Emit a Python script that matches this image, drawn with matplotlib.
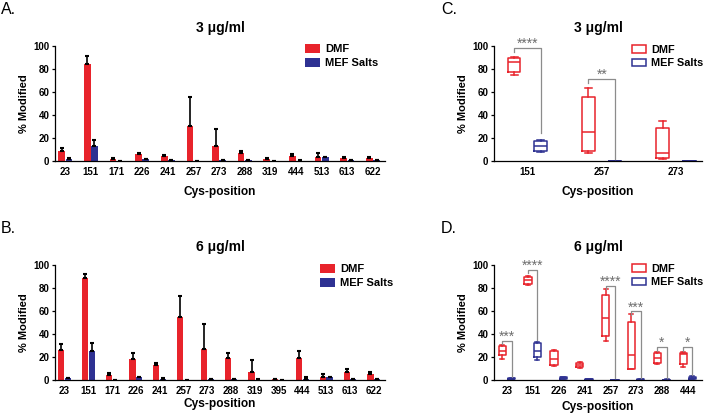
import numpy as np
import matplotlib
matplotlib.use('Agg')
import matplotlib.pyplot as plt
from matplotlib.patches import Patch

plt.rcParams['font.family'] = ['Liberation Sans', 'DejaVu Sans']
plt.rcParams['font.weight'] = 'bold'

RED = '#E8232B'
BLUE = '#2E3192'

# Panel A: 3 ug/ml, mean +/- error
a_pos = ['23', '151', '171', '226', '241', '257', '273', '288', '319', '444', '513', '613', '622']
a_dmf = [8.7, 84.6, 1.7, 6.1, 4.0, 30.4, 13.0, 7.0, 1.7, 4.3, 3.8, 2.9, 2.5]
a_dmf_err = [2.9, 7.0, 0.9, 1.1, 1.2, 25.0, 14.8, 2.0, 1.2, 1.5, 2.9, 0.6, 0.7]
a_mef = [1.8, 12.8, 0.2, 1.5, 0.8, 0.2, 0.5, 0.5, 0.2, 0.4, 3.5, 0.5, 0.5]
a_mef_err = [0.5, 5.2, 0.1, 0.5, 0.3, 0.1, 0.2, 0.2, 0.1, 0.2, 0.3, 0.2, 0.2]

# Panel B: 6 ug/ml
b_pos = ['23', '151', '171', '226', '241', '257', '273', '288', '319', '395', '444', '513', '613', '622']
b_dmf = [26.2, 88.4, 4.7, 18.0, 13.0, 54.7, 26.7, 19.2, 7.0, 0.5, 19.5, 2.6, 7.0, 5.2]
b_dmf_err = [4.8, 3.5, 1.4, 5.8, 1.8, 18.6, 22.3, 4.3, 10.0, 0.3, 6.1, 2.6, 2.3, 1.8]
b_mef = [1.5, 25.0, 0.1, 2.3, 1.0, 0.1, 0.5, 0.5, 0.3, 0.3, 1.0, 2.3, 0.5, 0.5]
b_mef_err = [0.5, 7.0, 0.1, 0.7, 0.5, 0.1, 0.2, 0.2, 0.2, 0.1, 1.3, 0.6, 0.2, 0.2]

# Panel C: 3 ug/ml box plots (min, q1, median, q3, max)
c_pos = ['151', '257', '273']
c_dmf_min = [74.5, 6.7, 2.0]
c_dmf_q1 = [77.4, 8.7, 2.6]
c_dmf_med = [86.0, 25.5, 6.7]
c_dmf_q3 = [90.0, 56.0, 28.7]
c_dmf_max = [90.5, 63.2, 34.8]
c_mef_min = [7.8, 0.0, 0.0]
c_mef_q1 = [8.4, 0.05, 0.05]
c_mef_med = [13.0, 0.1, 0.1]
c_mef_q3 = [17.4, 0.2, 0.2]
c_mef_max = [18.3, 0.3, 0.3]
c_sig_idx = [0, 1]
c_sig_top = [98.0, 71.3]
c_sig_bottom = [24.0, 1.0]
c_sig_text = ['****', '**']

# Panel D: 6 ug/ml box plots
d_pos = ['23', '151', '226', '241', '257', '273', '288', '444']
d_dmf_min = [18.5, 83.0, 12.2, 10.5, 33.6, 9.2, 13.5, 11.2]
d_dmf_q1 = [21.5, 83.5, 13.0, 11.5, 38.0, 10.0, 14.4, 14.0]
d_dmf_med = [25.5, 87.0, 18.3, 13.0, 53.5, 22.0, 19.3, 22.2]
d_dmf_q3 = [29.5, 90.0, 25.5, 15.0, 73.5, 50.4, 23.6, 23.6]
d_dmf_max = [30.5, 90.7, 26.0, 15.5, 79.0, 57.0, 24.5, 24.2]
d_mef_min = [0.2, 17.4, 0.5, 0.2, 0.0, 0.1, 0.0, 0.5]
d_mef_q1 = [0.5, 20.3, 0.8, 0.3, 0.05, 0.2, 0.1, 0.8]
d_mef_med = [1.0, 25.5, 1.5, 0.6, 0.1, 0.4, 0.2, 2.0]
d_mef_q3 = [1.5, 32.3, 2.5, 1.0, 0.2, 0.6, 0.4, 3.0]
d_mef_max = [1.8, 33.3, 3.0, 1.2, 0.3, 0.8, 0.5, 3.5]
d_sig_idx = [0, 1, 4, 5, 6, 7]
d_sig_top = [34.3, 96.0, 82.0, 59.6, 28.5, 28.5]
d_sig_bottom = [3.0, 34.6, 0.0, 0.0, 0.0, 4.0]
d_sig_text = ['***', '****', '****', '***', '*', '*']


def style_axes(ax, labels, title, xpad):
    ax.spines['top'].set_visible(False)
    ax.spines['right'].set_visible(False)
    ax.spines['left'].set_linewidth(0.9)
    ax.spines['bottom'].set_linewidth(0.9)
    ax.set_ylim(0, 100)
    ax.set_yticks([0, 20, 40, 60, 80, 100])
    ax.set_xticks(np.arange(len(labels)))
    ax.set_xticklabels(labels)
    ax.tick_params(axis='y', length=2.5, width=0.9, labelsize=7, pad=1.5)
    ax.tick_params(axis='x', length=0, labelsize=7, pad=4)
    ax.set_ylabel('% Modified', fontsize=8, fontweight='bold', labelpad=3)
    ax.set_xlabel('Cys-position', fontsize=8.6, fontweight='bold', labelpad=xpad)
    ax.set_title(title, fontsize=10, fontweight='bold', pad=10)


def bar_panel(ax, labels, dmf, dmf_err, mef, mef_err, title, leg_xy, xpad):
    x = np.arange(len(labels))
    w = 0.26
    ax.bar(x - 0.14, dmf, w, color=RED, label='DMF', zorder=2,
           yerr=[np.zeros(len(dmf)), dmf_err], error_kw=dict(ecolor='black', elinewidth=1.2, capsize=1.2, capthick=1.5))
    ax.bar(x + 0.14, mef, w, color=BLUE, label='MEF Salts', zorder=2,
           yerr=[np.zeros(len(mef)), mef_err], error_kw=dict(ecolor='black', elinewidth=1.2, capsize=1.2, capthick=1.5))
    ax.set_xlim(-0.4, len(labels) - 0.53)
    style_axes(ax, labels, title, xpad)
    ax.legend(loc='upper left', bbox_to_anchor=leg_xy, frameon=False, fontsize=8, borderaxespad=0,
              handlelength=1.35, handleheight=0.9, handletextpad=0.45, labelspacing=0.3, borderpad=0)


def box_panel(ax, labels, dmf, mef, width, off, sig, title, xpad):
    x = np.arange(len(labels))
    for stats, pos, col in [(dmf, x - off, RED), (mef, x + off, BLUE)]:
        bxp = [dict(whislo=s[0], q1=s[1], med=s[2], q3=s[3], whishi=s[4], fliers=[]) for s in zip(*stats)]
        lp = dict(color=col, linewidth=1.1)
        ax.bxp(bxp, positions=pos, widths=width, showfliers=False, boxprops=lp, medianprops=lp,
               whiskerprops=lp, capprops=lp, capwidths=width * 0.55, manage_ticks=False)
    idx, top, bottom, text = sig
    for i, t, b, s in zip(idx, top, bottom, text):
        ax.plot([i - off, i - off, i + off, i + off], [t - 3.2, t, t, b], color='#8C8C8C', lw=0.9, clip_on=False)
        ax.text(i, t - 2.5, s, ha='center', va='bottom', fontsize=10, color='#6E6E6E', fontweight='normal')
    style_axes(ax, labels, title, xpad)
    h = [Patch(facecolor='white', edgecolor=RED, linewidth=1.1, label='DMF'),
         Patch(facecolor='white', edgecolor=BLUE, linewidth=1.1, label='MEF Salts')]
    return h


fig = plt.figure(figsize=(7.06, 4.16), dpi=100)
W, H = 706.0, 416.0

axA = fig.add_axes([55 / W, 1 - 161 / H, 330 / W, 115 / H])
axB = fig.add_axes([55 / W, 1 - 380 / H, 330 / W, 115 / H])
axC = fig.add_axes([494 / W, 1 - 161 / H, 208 / W, 115 / H])
axD = fig.add_axes([494 / W, 1 - 380 / H, 208 / W, 115 / H])

bar_panel(axA, a_pos, a_dmf, a_dmf_err, a_mef, a_mef_err, '3 \u03bcg/ml', (0.758, 1.017), 6.5)
bar_panel(axB, b_pos, b_dmf, b_dmf_err, b_mef, b_mef_err, '6 \u03bcg/ml', (0.803, 1.009), 1.5)

hC = box_panel(axC, c_pos,
               [c_dmf_min, c_dmf_q1, c_dmf_med, c_dmf_q3, c_dmf_max],
               [c_mef_min, c_mef_q1, c_mef_med, c_mef_q3, c_mef_max],
               0.17, 0.18, (c_sig_idx, c_sig_top, c_sig_bottom, c_sig_text), '3 \u03bcg/ml', 6.5)
axC.set_xlim(-0.45, 2.35)
axC.legend(handles=hC, loc='upper left', bbox_to_anchor=(0.663, 1.013), frameon=False, fontsize=7.8,
           borderaxespad=0, handlelength=1.26, handleheight=0.7, handletextpad=0.5, labelspacing=0.35,
           borderpad=0)

hD = box_panel(axD, d_pos,
               [d_dmf_min, d_dmf_q1, d_dmf_med, d_dmf_q3, d_dmf_max],
               [d_mef_min, d_mef_q1, d_mef_med, d_mef_q3, d_mef_max],
               0.28, 0.18, (d_sig_idx, d_sig_top, d_sig_bottom, d_sig_text), '6 \u03bcg/ml', 4)
axD.set_xlim(-0.5, 7.55)
axD.legend(handles=hD, loc='upper left', bbox_to_anchor=(0.663, 1.013), frameon=False, fontsize=7.8,
           borderaxespad=0, handlelength=1.26, handleheight=0.7, handletextpad=0.5, labelspacing=0.35,
           borderpad=0)

# panel letters
for lbl, xp, yp in [('A.', 1, 9), ('B.', 1, 228), ('C.', 441, 9), ('D.', 441, 228)]:
    fig.text(xp / W, 1 - yp / H, lbl, fontsize=11.5, fontweight='normal', va='center', ha='left')

fig.savefig('out.png', dpi=100)
